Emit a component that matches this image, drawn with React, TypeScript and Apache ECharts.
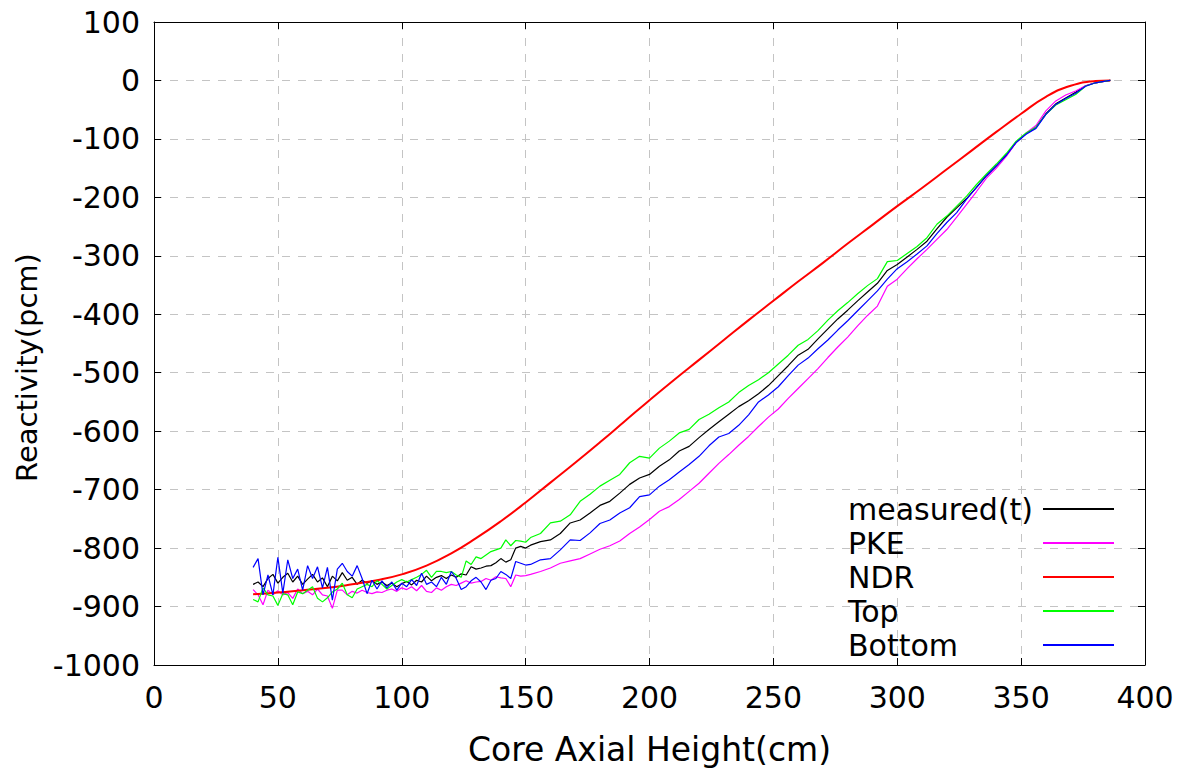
import React, { useEffect, useRef } from "react";
import * as echarts from "echarts";

// Core axial height (cm) sample positions shared by the measured/PKE/Top/Bottom series
const heights = [
  40, 42, 44, 46, 48, 50, 52, 54, 56, 58, 60, 62, 64, 66, 68, 70, 72, 74, 76, 78,
  80, 82, 84, 86, 88, 90, 92, 94, 96, 98, 100, 102, 104, 106, 108, 110, 112, 114, 116, 118,
  120, 122, 124, 126, 128, 130, 132, 134, 136, 138, 140, 142, 144, 146, 148, 150,
  152, 156, 160, 164, 168, 172, 176, 180, 184, 188, 192, 196, 200, 204, 208, 212, 216, 220,
  224, 228, 232, 236, 240, 244, 248, 252, 256, 260, 264, 268, 272, 276, 280, 284, 288, 292,
  296, 300, 304, 308, 312, 316, 320, 324, 328, 332, 336, 340, 344, 348, 352, 356, 360, 364,
  368, 372, 376, 380, 384, 386,
];

const measured = [
  -862, -858, -866, -852, -845, -860, -850, -843, -858, -848,
  -862, -853, -845, -858, -851, -866, -848, -856, -842, -855,
  -850, -862, -855, -860, -856, -862, -858, -864, -860, -866,
  -861, -857, -863, -855, -858, -848, -856, -850, -847, -852,
  -846, -850, -844, -846, -832, -836, -834, -831, -830, -825,
  -818, -824, -820, -800, -797, -800,
  -795, -789, -786, -775, -757, -752, -740, -727, -720, -706,
  -691, -680, -674, -660, -649, -634, -626, -611, -597, -584,
  -571, -558, -548, -536, -522, -505, -488, -470, -460, -442,
  -425, -408, -393, -377, -362, -347, -325, -315, -302, -289,
  -275, -254, -234, -218, -202, -183, -163, -146, -128, -106,
  -91, -80, -57, -40, -30, -20, -9, -4, -1, 0,
];

const pke = [
  -871, -880, -897, -872, -880, -873, -880, -876, -886, -870,
  -878, -874, -880, -870, -880, -882, -903, -872, -872, -880,
  -874, -877, -872, -876, -878, -875, -876, -872, -870, -874,
  -868, -871, -866, -873, -864, -874, -876, -868, -872, -866,
  -862, -864, -860, -856, -860, -858, -857, -852, -855, -849,
  -851, -852, -866, -846, -848, -847,
  -845, -840, -834, -826, -822, -818, -810, -802, -796, -788,
  -775, -764, -751, -737, -729, -717, -703, -689, -672, -655,
  -640, -624, -609, -592, -576, -562, -544, -527, -510, -493,
  -474, -456, -439, -420, -402, -386, -352, -340, -322, -305,
  -289, -272, -255, -234, -212, -190, -167, -150, -130, -106,
  -90, -77, -52, -35, -25, -18, -9, -4, -1, 0,
];

const top = [
  -888, -892, -868, -880, -882, -898, -878, -880, -897, -875,
  -878, -872, -866, -886, -892, -885, -875, -870, -860, -880,
  -885, -870, -866, -862, -866, -856, -862, -870, -864, -858,
  -854, -858, -854, -850, -845, -838, -850, -840, -840, -842,
  -840, -846, -850, -822, -828, -815, -818, -812, -806, -803,
  -800, -786, -796, -787, -788, -790,
  -782, -775, -757, -754, -743, -720, -708, -694, -684, -674,
  -654, -643, -646, -629, -617, -603, -597, -580, -571, -560,
  -550, -534, -522, -512, -500, -485, -470, -453, -443, -428,
  -410, -394, -380, -365, -351, -339, -310, -308, -296, -284,
  -269, -246, -232, -215, -198, -178, -160, -143, -125, -104,
  -90, -80, -58, -42, -33, -24, -10, -4, -1, 0,
];

const bottom = [
  -833, -818, -880, -846, -880, -816, -877, -820, -852, -836,
  -872, -830, -852, -832, -868, -833, -889, -836, -826, -840,
  -848, -830, -852, -878, -855, -870, -856, -868, -858, -872,
  -860, -866, -854, -864, -843, -862, -858, -866, -850, -862,
  -840, -852, -871, -866, -856, -850, -858, -871, -855, -852,
  -840, -845, -852, -823, -826, -829,
  -828, -820, -818, -803, -786, -787, -774, -758, -752, -740,
  -731, -712, -709, -694, -683, -670, -657, -643, -625, -610,
  -604, -590, -572, -550, -538, -524, -505, -487, -475, -459,
  -444, -427, -411, -394, -377, -360, -340, -322, -310, -297,
  -283, -262, -243, -226, -203, -183, -163, -146, -128, -106,
  -92, -82, -58, -41, -31, -22, -10, -4, -1, 0,
];

// NDR is a smooth curve, sampled every 10 cm
const ndrHeights = [
  40, 50, 60, 70, 80, 90, 100, 110, 120, 130, 140, 150, 160, 170, 180, 190, 200, 210,
  220, 230, 240, 250, 260, 270, 280, 290, 300, 310, 320, 330, 340, 350, 360, 370, 380, 386,
];
const ndr = [
  -879, -876, -872, -868, -862, -855, -845, -830, -809, -783, -754, -722, -688, -654,
  -619, -583, -547, -512, -478, -444, -410, -377, -344, -312, -279, -247, -215, -184,
  -152, -120, -88, -57, -28, -9, -1, 0,
];

const seriesNames = ["measured(t)", "PKE", "NDR", "Top", "Bottom"];
const seriesColors = ["#000000", "#ff00ff", "#ff0000", "#00ff00", "#0000ff"];

const FONT = "DejaVu Sans";

function pairs(xs: number[], ys: number[]) {
  return xs.map((x, i) => [x, ys[i]]);
}

export default function App() {
  const ref = useRef<HTMLDivElement>(null);

  useEffect(() => {
    if (!ref.current) return;
    const chart = echarts.init(ref.current, undefined, { renderer: "svg" });

    const dataSets = [
      pairs(heights, measured),
      pairs(heights, pke),
      pairs(ndrHeights, ndr),
      pairs(heights, top),
      pairs(heights, bottom),
    ];

    const axisLine = { show: true, onZero: false, lineStyle: { color: "#000", width: 1 } };
    const tick = { show: true, inside: true, length: 7, lineStyle: { color: "#000", width: 1 } };
    const plain = (v: number) => String(v);

    const option: any = {
      animation: false,
      backgroundColor: "#ffffff",
      textStyle: { fontFamily: FONT },
      grid: { left: 154, top: 22, width: 991, height: 643, containLabel: false },
      xAxis: [
        {
          type: "value",
          min: 0,
          max: 400,
          interval: 50,
          position: "bottom",
          axisLine,
          axisTick: tick,
          axisLabel: { fontSize: 30, color: "#000", margin: 17, fontFamily: FONT, formatter: plain },
          splitLine: { show: true, lineStyle: { color: "#c4c4c4", type: [8, 8], width: 1 } },
          name: "Core Axial Height(cm)",
          nameLocation: "middle",
          nameGap: 68,
          nameTextStyle: { fontSize: 33, color: "#000", fontFamily: FONT },
        },
        {
          type: "value",
          min: 0,
          max: 400,
          interval: 50,
          position: "top",
          axisLine,
          axisTick: tick,
          axisLabel: { show: false },
          splitLine: { show: false },
        },
      ],
      yAxis: [
        {
          type: "value",
          min: -1000,
          max: 100,
          interval: 100,
          position: "left",
          axisLine,
          axisTick: tick,
          axisLabel: { fontSize: 30, color: "#000", margin: 14, fontFamily: FONT, formatter: plain },
          splitLine: { show: true, lineStyle: { color: "#c4c4c4", type: [8, 8], width: 1 } },
          name: "Reactivity(pcm)",
          nameLocation: "middle",
          nameGap: 108,
          nameTextStyle: { fontSize: 29, color: "#000", fontFamily: FONT, padding: [0, 48, 0, 0] },
        },
        {
          type: "value",
          min: -1000,
          max: 100,
          interval: 100,
          position: "right",
          axisLine,
          axisTick: tick,
          axisLabel: { show: false },
          splitLine: { show: false },
        },
      ],
      legend: {
        left: 848,
        top: 492,
        padding: 0,
        orient: "vertical",
        align: "right",
        itemGap: 0,
        itemWidth: 71,
        itemHeight: 2,
        icon: "rect",
        formatter: "{a|{name}}",
        textStyle: {
          color: "#000",
          fontFamily: FONT,
          fontSize: 30,
          lineHeight: 34,
          rich: {
            a: { width: 190, height: 34, align: "left", fontSize: 30, lineHeight: 34, fontFamily: FONT, color: "#000" },
          },
        },
        data: seriesNames,
      },
      series: seriesNames.map((name, i) => ({
        name,
        type: "line",
        xAxisIndex: 0,
        yAxisIndex: 0,
        data: dataSets[i],
        showSymbol: false,
        symbol: "none",
        smooth: name === "NDR" ? 0.5 : false,
        color: seriesColors[i],
        itemStyle: { color: seriesColors[i] },
        lineStyle: { color: seriesColors[i], width: name === "NDR" ? 2 : 1.2 },
        emphasis: { disabled: true },
      })),
    };

    chart.setOption(option);
    return () => chart.dispose();
  }, []);

  return (
    <div
      ref={ref}
      style={{ position: "fixed", left: 0, top: 0, width: 1190, height: 775, background: "#fff" }}
    />
  );
}
